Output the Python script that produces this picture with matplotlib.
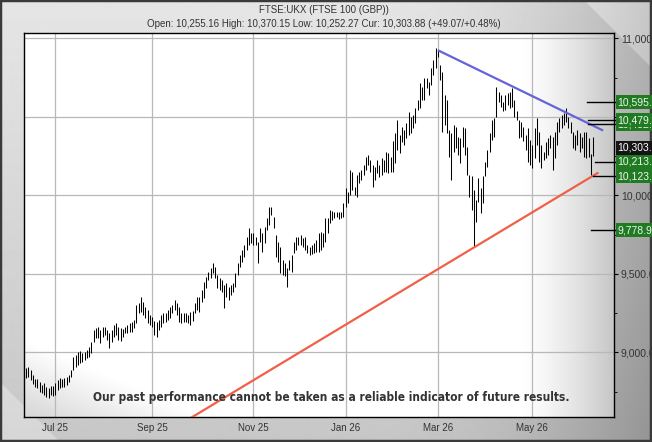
"""FTSE 100 daily bar chart with trend lines and target levels"""
import numpy as np
import pandas as pd
import matplotlib
matplotlib.use("Agg")
import matplotlib.pyplot as plt
from matplotlib import transforms

# UK market holidays inside the plotted range (no bars on these days)
holidays = ["2025-08-25", "2025-12-25", "2025-12-26", "2026-01-01",
            "2026-04-03", "2026-04-06", "2026-05-04", "2026-05-25"]
first_day = "2025-06-12"

# daily highs / lows, Jun 2025 -> Jun 2026
highs = [8899, 8906, 8889, 8857, 8829, 8834, 8812, 8793, 8804, 8783, 8772, 8787, 8787, 8804, 8825, 8836,
         8829, 8836, 8846, 8857, 8889, 8974, 8984, 9006, 9012, 8995, 9006, 9016, 9037, 9069, 9144, 9154,
         9165, 9144, 9165, 9165, 9144, 9122, 9144, 9175, 9186, 9165, 9154, 9148, 9165, 9175, 9186,
         9192, 9207, 9302, 9313, 9355, 9323, 9292, 9270, 9238, 9228, 9200, 9192, 9207, 9238, 9249, 9249,
         9270, 9292, 9302, 9334, 9313, 9292, 9249, 9249, 9249, 9238, 9260, 9264, 9313, 9355, 9355, 9398,
         9451, 9483, 9514, 9536, 9568, 9546, 9493, 9472, 9461, 9430, 9440, 9419, 9430, 9440,
         9505, 9568, 9621, 9653, 9685, 9738, 9791, 9760, 9760, 9738, 9706, 9791, 9760, 9802, 9855, 9929,
         9929, 9866, 9749, 9706, 9675, 9590, 9568, 9537, 9590, 9621, 9706, 9738, 9738, 9749, 9728, 9738,
         9685, 9675, 9685, 9696, 9717, 9760, 9770, 9760, 9855, 9855, 9908, 9902, 9897, 9897,
         9897, 9897, 9950, 10045, 10024, 10162, 10152, 10056, 10130, 10152, 10162, 10194, 10247, 10258,
         10226, 10194, 10183, 10226, 10194, 10237, 10226, 10279, 10268, 10247, 10347, 10396, 10481, 10385,
         10438, 10417, 10459, 10534, 10502, 10513, 10555, 10608, 10714, 10693, 10746, 10746, 10725, 10810,
         10863, 10937, 10926, 10831,
         10789, 10641, 10609, 10418, 10397, 10450, 10439, 10375, 10365, 10439, 10428, 10312, 10131, 10121,
         10036, 9972, 10110, 10046, 10121, 10216, 10290, 10397, 10482, 10492, 10694, 10662, 10641, 10598,
         10641, 10651, 10662, 10683, 10609, 10535, 10482, 10471, 10439,
         10385, 10428, 10353, 10322, 10428, 10491, 10406, 10322, 10279, 10343, 10364, 10385, 10375, 10406,
         10470, 10491, 10513, 10523, 10555, 10502, 10470, 10406, 10385, 10417, 10396, 10375, 10406, 10406,
         10368, 10262, 10370]
lows = [8836, 8842, 8825, 8800, 8778, 8772, 8751, 8740, 8730, 8719, 8708, 8730, 8723, 8730, 8762, 8772,
        8778, 8783, 8793, 8815, 8846, 8889, 8910, 8921, 8931, 8942, 8953, 8963, 8974, 8995, 9069, 9091,
        9091, 9059, 9101, 9112, 9080, 9027, 9069, 9101, 9112, 9080, 9076, 9097, 9122, 9127, 9133,
        9132, 9154, 9185, 9249, 9260, 9238, 9217, 9185, 9175, 9164, 9111, 9100, 9143, 9164, 9185, 9196,
        9207, 9217, 9249, 9270, 9238, 9196, 9185, 9196, 9196, 9185, 9175, 9200, 9249, 9270, 9260, 9323,
        9345, 9408, 9461, 9472, 9504, 9472, 9408, 9398, 9387, 9281, 9355, 9334, 9366, 9387,
        9420, 9494, 9547, 9579, 9611, 9653, 9685, 9696, 9685, 9685, 9568, 9706, 9643, 9696, 9781, 9813,
        9876, 9791, 9611, 9579, 9505, 9494, 9484, 9420, 9526, 9515, 9632, 9653, 9685, 9685, 9675, 9653,
        9632, 9621, 9626, 9632, 9643, 9643, 9653, 9675, 9706, 9760, 9823, 9844, 9855, 9866,
        9850, 9859, 9865, 9929, 9950, 10003, 10035, 10003, 9992, 10077, 10099, 10130, 10162, 10194,
        10152, 10056, 10099, 10141, 10120, 10130, 10152, 10152, 10141, 10152, 10152, 10205, 10290, 10268,
        10343, 10321, 10364, 10385, 10396, 10428, 10459, 10544, 10555, 10608, 10608, 10682, 10640, 10704,
        10767, 10810, 10884, 10735,
        10407, 10450, 10397, 10248, 10099, 10280, 10301, 10259, 10206, 10312, 10259, 10131, 9993, 9908,
        9675, 9834, 9961, 9887, 9951, 10121, 10184, 10280, 10354, 10375, 10503, 10598, 10566, 10535,
        10545, 10577, 10556, 10566, 10503, 10482, 10365, 10375, 10344,
        10290, 10215, 10194, 10173, 10237, 10322, 10215, 10173, 10226, 10237, 10258, 10300, 10162, 10237,
        10322, 10406, 10428, 10449, 10470, 10428, 10396, 10300, 10290, 10322, 10279, 10300, 10247, 10237,
        10247, 10131, 10252]

# trend lines (bar index, price)
resist_idx = [183.5, 256.0]
resist_val = [10922, 10417]
support_idx = [60.0, 254.0]
support_val = [8469, 10143]

# target levels on the right edge
target_vals = [10595.33, 10452.18, 10479.52, 10213.31, 10123.27, 9778.90]
target_text = ["10,595.33", "10,452.18", "10,479.52", "10,213.31", "10,123.27", "9,778.90"]
target_from = [249.2, 249.8, 249.8, 252.9, 252.0, 251.1]
current_val = 10303.88
current_text = "10,303.88"

month_starts = ["2025-07-01", "2025-09-01", "2025-11-01", "2026-01-01", "2026-03-01", "2026-05-01"]
month_labels = ["Jul 25", "Sep 25", "Nov 25", "Jan 26", "Mar 26", "May 26"]
y_major = [9000, 9500, 10000, 10500, 11000]
y_labels = ["9,000.0", "9,500.0", "10,000.0", "10,500.0", "11,000.0"]

dates = pd.bdate_range(first_day, periods=len(highs), freq="C", holidays=holidays)
idx = np.arange(len(highs))
tick_pos = [int(np.searchsorted(dates.values, np.datetime64(m))) for m in month_starts]

plt.rcParams['font.family'] = ['Liberation Sans', 'DejaVu Sans']

W, H = 652, 442
fig = plt.figure(figsize=(W / 100, H / 100), dpi=100)

# frame background
bg = fig.add_axes([0, 0, 1, 1], zorder=-10)
yy, xx = np.mgrid[0:H, 0:W]
fx = xx / W
fy = yy / H
shade = 0.90 - 0.12 * fy - 0.20 * np.clip((fx - 0.55) / 0.45, 0, 1) ** 2
shade = np.where((W - xx) + yy < 70, shade + 0.08, shade)
shade = np.where(xx + (H - yy) < 60, shade + 0.06, shade)
bg.imshow(shade, cmap='gray', vmin=0, vmax=1, aspect='auto', interpolation='bilinear')
bg.add_patch(plt.Rectangle((0, 0), W - 1, H - 1, fill=False, edgecolor='#3a3a3a', lw=2.5))
bg.set_xlim(0, W)
bg.set_ylim(H, 0)
bg.axis('off')

left, right, top, bottom = 24, 614, 33, 417
ax = fig.add_axes([left / W, 1 - bottom / H, (right - left) / W, (bottom - top) / H])
xlim = (-0.9, 261.3)
ylim = (8589, 11035)

# plot area shading
pu, pv = np.meshgrid(np.linspace(0, 1, 300), np.linspace(1, 0, 200))
right_fade = np.clip((pu - 0.84) / 0.16, 0, 1) ** 1.4 * 0.22
low_fade = np.clip((0.20 - pv - 0.65 * pu) / 0.20, 0, 1) * 0.16
ax.imshow(1 - np.maximum(right_fade, low_fade), cmap='gray', vmin=0, vmax=1,
          extent=(xlim[0], xlim[1], ylim[0], ylim[1]), aspect='auto', zorder=0,
          interpolation='bilinear')

for p in tick_pos:
    ax.axvline(p, color='#b8b8b8', lw=0.9, zorder=1)
for v in y_major:
    ax.axhline(v, color='#b8b8b8', lw=0.9, zorder=1)

ax.vlines(idx, lows, highs, color='black', lw=0.75, zorder=3)

ax.plot(resist_idx, resist_val, color='#6464d8', lw=1.6, zorder=4)
ax.plot(support_idx, support_val, color='#f06048', lw=1.6, zorder=4)

for v, x0 in zip(target_vals, target_from):
    ax.plot([x0, xlim[1] + 2], [v, v], color='black', lw=1.0, zorder=4, clip_on=False)

ax.set_xlim(*xlim)
ax.set_ylim(*ylim)

ax.set_xticks(tick_pos)
ax.set_xticklabels(month_labels)
ax.tick_params(axis='x', length=0, pad=4, labelsize=7, labelcolor='#333333')
ax.yaxis.tick_right()
ax.set_yticks(y_major)
ax.set_yticklabels(y_labels)
ax.set_yticks(np.arange(8750, 11000, 500), minor=True)
ax.tick_params(axis='y', which='major', length=3, pad=2, labelsize=7.5, labelcolor='#333333')
ax.tick_params(axis='y', which='minor', length=2)
for s in ax.spines.values():
    s.set_color('black')
    s.set_linewidth(1.0)

# price labels on the right
lbl_tr = transforms.offset_copy(transforms.blended_transform_factory(ax.transAxes, ax.transData),
                                fig=fig, x=3.5, y=0, units='dots')
for v, t in zip(target_vals, target_text):
    ax.text(1.0, v, t, transform=lbl_tr, ha='left', va='center', fontsize=7.5, color='#eef6ee',
            clip_on=False, zorder=6,
            bbox=dict(boxstyle='square,pad=0.18', facecolor='#1f7a22', edgecolor='none'))
ax.text(1.0, current_val, current_text, transform=lbl_tr, ha='left', va='center', fontsize=7.5,
        color='white', clip_on=False, zorder=6,
        bbox=dict(boxstyle='square,pad=0.18', facecolor='#151515', edgecolor='none'))

ax.text(0.52, 0.05, "Our past performance cannot be taken as a reliable indicator of future results.",
        transform=ax.transAxes, ha='center', va='center', fontsize=8.6, fontweight='bold',
        fontstretch='condensed', color='#333333',
        family=['Liberation Sans Narrow', 'DejaVu Sans'], zorder=7)

fig.text(324 / W, 1 - 10 / H, "FTSE:UKX (FTSE 100 (GBP))", ha='center', va='center',
         fontsize=7, color='#333333')
fig.text(324 / W, 1 - 24 / H,
         "Open: 10,255.16 High: 10,370.15 Low: 10,252.27 Cur: 10,303.88 (+49.07/+0.48%)",
         ha='center', va='center', fontsize=7, color='#333333')

fig.savefig("out.png", dpi=100)
